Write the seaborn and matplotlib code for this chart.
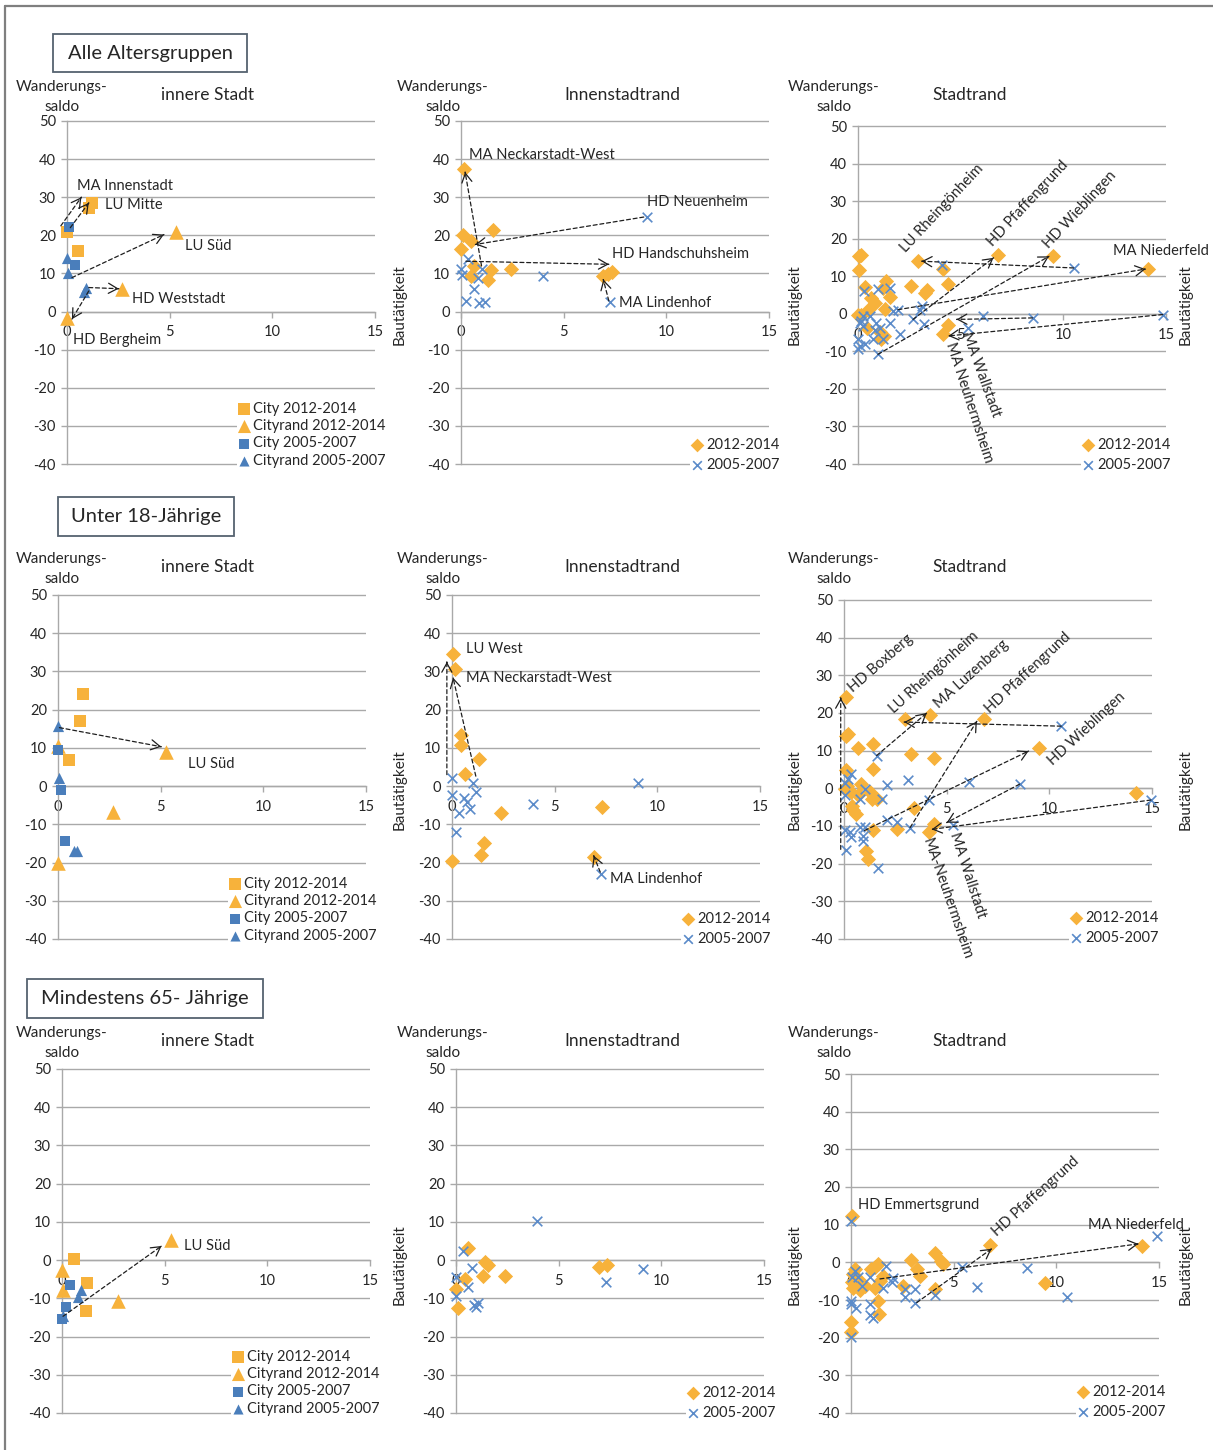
import matplotlib
matplotlib.use("Agg")
import matplotlib.pyplot as plt
from matplotlib.lines import Line2D
from matplotlib.patches import Rectangle
import pandas as pd
import seaborn as sns

W, H = 1213, 1450

sns.set_theme(style="white")
plt.rcParams["font.family"] = ["Lato", "DejaVu Sans"]
plt.rcParams["axes.unicode_minus"] = False

ORANGE = "#F7B23B"
BLUE = "#4A7EBB"
CROSS = "#5B8BC9"
GRID = "#A9A9A9"
TXT = "#262626"
ARROW = "#1E1E1E"

X_TICKS = [0, 5, 10, 15]
Y_TICKS = [-40, -30, -20, -10, 0, 10, 20, 30, 40, 50]

GROUP_TITLES = ["Alle Altersgruppen", "Unter 18-Jährige", "Mindestens 65- Jährige"]
AREA_TITLES = ["innere Stadt", "Innenstadtrand", "Stadtrand"]
Y_LABEL = "Wanderungs-\nsaldo"
X_LABEL = "Bautätigkeit"
INNER_SERIES = ["City 2012-2014", "Cityrand 2012-2014", "City 2005-2007", "Cityrand 2005-2007"]
OUTER_SERIES = ["2012-2014", "2005-2007"]

# ---------------- Alle Altersgruppen ----------------
A_IN_CITY_NEW = [(1.2, 28.6), (1.05, 27.3), (0.55, 15.8), (0.0, 21.0)]
A_IN_RAND_NEW = [(5.3, 20.8), (2.7, 5.8), (0.0, -1.8)]
A_IN_CITY_OLD = [(0.1, 22.2), (0.37, 12.3)]
A_IN_RAND_OLD = [(0.0, 14.1), (0.05, 10.0), (0.93, 6.1), (0.85, 5.2)]
A_IN_ARROWS = [(-0.3, 22.5, 0.7, 30.0), (0.16, 22.0, 1.06, 28.5), (0.24, 8.9, 4.72, 20.2),
               (1.06, 6.3, 2.52, 6.0), (1.06, 5.4, 0.24, -2.0)]
A_IN_LABELS = [("MA Innenstadt", 0.5, 33.0, 0), ("LU Mitte", 1.87, 28.0, 0), ("LU Süd", 5.77, 17.3, 0),
               ("HD Weststadt", 3.17, 3.2, 0), ("HD Bergheim", 0.28, -7.4, 0)]

A_MID_NEW = [(0.13, 37.4), (0.08, 20.2), (0.0, 16.5), (0.5, 18.5), (1.56, 21.3), (0.62, 11.9),
             (0.5, 9.3), (1.46, 10.8), (1.32, 8.4), (2.44, 11.1), (6.93, 9.3), (7.15, 9.9), (7.33, 10.5)]
A_MID_OLD = [(9.04, 24.8), (0.33, 13.7), (0.0, 11.1), (0.05, 9.6), (1.02, 11.1), (0.83, 8.9),
             (0.62, 5.8), (0.24, 2.8), (0.86, 2.2), (1.19, 2.6), (3.98, 9.3), (7.28, 2.4)]
A_MID_ARROWS = [(1.0, 12.0, 0.2, 36.6), (8.9, 24.8, 0.7, 17.6), (0.24, 13.2, 7.2, 12.4),
                (7.2, 2.8, 6.93, 8.4)]
A_MID_LABELS = [("MA Neckarstadt-West", 0.37, 41.1, 0), ("HD Neuenheim", 9.07, 28.7, 0),
                ("HD Handschuhsheim", 7.33, 15.0, 0), ("MA Lindenhof", 7.7, 2.2, 0)]

A_OUT_NEW = [(0.05, 15.5), (0.13, 15.7), (0.05, 11.7), (0.32, 7.1), (1.38, 8.7), (1.22, 6.9),
             (1.54, 4.4), (0.65, 4.2), (0.81, 2.9), (0.49, 1.1), (1.3, 1.3), (0.16, -0.4),
             (0.0, -0.4), (0.44, -3.7), (1.05, -4.9), (1.26, -5.9), (1.14, -6.8), (2.92, 14.0),
             (2.56, 7.3), (3.24, 5.6), (3.37, 6.4), (4.13, 11.9), (4.38, 7.8), (4.38, -3.1),
             (4.13, -5.5), (6.81, 15.7), (9.49, 15.3), (14.1, 11.9)]
A_OUT_OLD = [(4.1, 13.1), (10.5, 12.2), (14.84, -0.2), (6.08, -0.6), (8.51, -1.1), (5.35, -3.7),
             (0.28, 6.0), (0.97, 6.7), (1.54, 6.9), (1.95, 1.1), (3.0, 1.1), (3.13, 2.0),
             (2.68, -1.5), (3.19, -2.8), (1.7, 0.7), (1.54, -2.4), (2.03, -5.5), (0.97, -10.8),
             (0.89, -2.4), (0.81, -4.2), (1.05, -3.7), (0.57, -0.6), (0.24, -0.6), (0.08, -2.4),
             (0.16, -1.9), (0.24, -3.3), (0.0, -6.8), (0.08, -8.6), (0.32, -8.1), (0.0, -9.5),
             (0.73, -6.8), (1.22, -6.8)]
A_OUT_ARROWS = [(10.5, 12.2, 3.1, 14.0), (2.68, -1.5, 6.6, 14.9), (0.97, -10.8, 9.3, 15.3),
                (1.95, 1.1, 14.0, 11.9), (8.5, -1.1, 4.8, -1.5), (14.84, -0.2, 4.4, -5.9)]
A_OUT_LABELS = [("LU Rheingönheim", 2.19, 17.0, 47), ("HD Pfaffengrund", 6.4, 18.4, 47),
                ("HD Wieblingen", 9.16, 17.9, 47), ("MA Niederfeld", 12.4, 16.6, 0),
                ("MA Wallstadt", 5.27, -5.0, -70), ("MA Neuhermsheim", 4.46, -7.7, -72)]

# ---------------- Unter 18-Jährige ----------------
U_IN_CITY_NEW = [(1.2, 24.2), (1.09, 17.0), (0.55, 6.8)]
U_IN_RAND_NEW = [(5.27, 8.9), (2.7, -6.7), (0.0, -20.1), (0.0, 10.5)]
U_IN_CITY_OLD = [(0.0, 9.4), (0.15, -1.0), (0.36, -14.4)]
U_IN_RAND_OLD = [(0.0, 15.7), (0.07, 2.2), (0.8, -17.0), (0.93, -17.0)]
U_IN_ARROWS = [(0.07, 15.3, 5.03, 10.3)]
U_IN_LABELS = [("LU Süd", 6.33, 5.9, 0)]

U_MID_NEW = [(0.05, 34.5), (0.16, 30.7), (0.46, 13.3), (0.42, 10.7), (1.32, 7.2), (0.62, 3.1),
             (2.41, -7.0), (1.55, -14.8), (1.4, -18.1), (0.0, -19.5), (7.31, -5.4), (6.92, -18.5)]
U_MID_OLD = [(0.0, 2.2), (0.0, -2.4), (0.57, -3.1), (0.73, -4.2), (0.33, -7.0), (0.86, -5.9),
             (1.03, 0.7), (1.16, -1.5), (0.21, -12.0), (3.96, -4.8), (9.04, 0.9), (7.25, -23.1)]
U_MID_ARROWS = [(-0.25, 3.0, -0.25, 32.5), (1.16, 2.6, 0.05, 28.4), (7.22, -22.5, 6.9, -18.2)]
U_MID_LABELS = [("LU West", 0.67, 36.0, 0), ("MA Neckarstadt-West", 0.67, 28.4, 0),
                ("MA Lindenhof", 7.7, -24.4, 0)]

U_OUT_NEW = [(0.08, 24.3), (0.1, 13.9), (0.21, 14.5), (0.67, 10.6), (1.43, 11.7), (1.4, 5.2),
             (0.1, 4.9), (2.97, 18.5), (4.19, 19.4), (6.84, 18.5), (9.52, 10.6), (3.27, 9.0),
             (4.4, 8.1), (14.24, -1.3), (0.83, 1.2), (0.13, 0.6), (0.05, -0.1), (0.33, -1.1),
             (0.7, -1.9), (1.27, -1.1), (1.35, -2.9), (1.59, -2.7), (0.37, -4.7), (0.46, -5.8),
             (0.59, -6.9), (3.43, -5.1), (2.57, -10.7), (1.4, -11.0), (4.16, -11.6), (4.39, -9.5),
             (1.07, -16.6), (1.19, -18.8)]
U_OUT_OLD = [(10.58, 16.5), (1.59, 8.7), (0.33, 3.7), (0.21, 2.6), (0.05, 1.5), (3.14, 2.1),
             (6.11, 1.7), (8.55, 1.1), (2.08, 0.9), (1.02, -0.1), (0.05, -1.9), (0.78, -2.9),
             (1.87, -2.9), (4.14, -3.1), (14.95, -3.1), (2.08, -8.4), (2.57, -8.9), (3.22, -10.4),
             (5.33, -9.8), (0.05, -11.0), (0.29, -11.6), (0.78, -10.2), (1.02, -10.2),
             (0.33, -12.8), (0.94, -12.6), (0.91, -13.9), (0.1, -16.3), (1.67, -21.1)]
U_OUT_ARROWS = [(-0.16, -16.2, -0.16, 24.0), (10.58, 16.5, 2.93, 17.6), (1.59, 8.7, 4.03, 20.0),
                (3.22, -10.4, 6.47, 17.8), (1.0, -11.2, 8.99, 9.9), (8.55, 1.1, 5.0, -9.1),
                (14.95, -3.1, 4.27, -10.9)]
U_OUT_LABELS = [("HD Boxberg", 0.33, 26.2, 41), ("LU Rheingönheim", 2.32, 20.5, 42),
                ("MA Luzenberg", 4.52, 21.8, 42), ("HD Pfaffengrund", 6.96, 20.5, 43),
                ("HD Wieblingen", 10.04, 6.8, 43), ("MA Wallstadt", 5.33, -11.7, -72),
                ("MA-Neuhermsheim", 4.03, -13.5, -71)]

# ---------------- Mindestens 65-Jährige ----------------
M_IN_CITY_NEW = [(0.59, 0.2), (1.22, -6.1), (1.15, -13.4)]
M_IN_RAND_NEW = [(5.3, 5.2), (0.0, -2.5), (0.05, -7.7), (2.73, -10.8)]
M_IN_CITY_OLD = [(0.37, -6.4), (0.18, -12.3), (0.0, -15.4)]
M_IN_RAND_OLD = [(0.94, -7.7), (0.78, -9.6), (0.05, -14.7)]
M_IN_ARROWS = [(0.05, -14.7, 4.85, 3.7)]
M_IN_LABELS = [("LU Süd", 5.93, 3.7, 0)]

M_MID_NEW = [(0.6, 3.2), (0.44, -4.9), (0.0, -7.5), (0.11, -12.6), (1.42, -0.4), (1.55, -1.4),
             (1.31, -4.2), (2.37, -4.2), (6.94, -1.7), (7.33, -1.3)]
M_MID_OLD = [(3.95, 10.3), (0.36, 2.3), (0.77, -2.0), (0.0, -4.4), (0.6, -7.0), (0.0, -9.4),
             (0.9, -11.7), (1.09, -11.1), (0.96, -12.2), (7.3, -5.7), (9.09, -2.4)]
M_MID_ARROWS = []
M_MID_LABELS = []

M_OUT_NEW = [(0.03, 12.4), (6.77, 4.7), (14.16, 4.3), (2.92, 0.6), (4.09, 2.4), (4.38, 0.4),
             (4.46, -0.4), (3.2, -1.8), (3.36, -3.6), (2.55, -6.2), (4.09, -7.1), (9.45, -5.6),
             (1.33, -0.4), (1.17, -1.2), (0.96, -1.8), (0.19, -1.8), (0.11, -3.1), (0.36, -4.4),
             (0.03, -5.3), (0.11, -6.7), (0.44, -7.4), (0.68, -6.2), (1.17, -6.8), (1.41, -4.9),
             (1.57, -3.6), (1.33, -10.2), (1.36, -13.8), (0.0, -15.9), (0.0, -18.6)]
M_OUT_OLD = [(0.0, 10.9), (14.89, 7.1), (5.39, -1.2), (8.55, -1.5), (6.12, -6.5), (10.54, -9.3),
             (1.7, -0.9), (2.06, -4.2), (1.98, -5.3), (1.57, -6.7), (2.63, -7.1), (3.12, -7.1),
             (2.63, -9.3), (3.12, -10.8), (4.09, -8.6), (0.93, -4.0), (0.19, -2.2), (0.36, -3.8),
             (0.52, -6.2), (0.03, -3.8), (0.0, -10.2), (0.0, -11.1), (0.24, -12.2), (0.93, -11.1),
             (0.93, -14.0), (1.06, -14.7), (0.0, -19.8)]
M_OUT_ARROWS = [(3.2, -10.7, 6.85, 3.6), (1.41, -4.4, 13.99, 4.9)]
M_OUT_LABELS = [("HD Emmertsgrund", 0.36, 15.1, 0), ("HD Pfaffengrund", 7.0, 7.6, 42),
                ("MA Niederfeld", 11.56, 9.8, 0)]

# ---------------- layout (pixel positions of the plot areas) ----------------
# (left, right, top, bottom) of the 0..15 / 50..-40 area
PANEL_BOX = [
    [(67, 375, 121, 464), (461, 769, 121, 464), (858, 1166, 126, 464)],
    [(58, 366, 595, 939), (452, 760, 595, 939), (844, 1152, 600, 939)],
    [(62, 370, 1069, 1413), (456, 764, 1069, 1413), (851, 1159, 1074, 1413)],
]
# legend anchor: (left, bottom) in pixels
LEGEND_AT = [
    [(237, 469), (690, 473), (1081, 473)],
    [(228, 944), (681, 947), (1069, 946)],
    [(231, 1417), (686, 1421), (1076, 1420)],
]
HEADER_BOX = [(53, 247, 34, 72), (58, 234, 497, 536), (27, 263, 979, 1018)]
ROW_TITLE_Y = [95, 567, 1041]
COL_TITLE_X = [207, 622, 970]
YLAB_X = [62, 443, 834]
YLAB_Y = [97, 569, 1043]
XLAB_X = [400, 795, 1186]
XLAB_Y = [305, 790, 1265]

fig = plt.figure(figsize=(W / 100, H / 100), dpi=100)
fig.patch.set_facecolor("white")


def fx(px):
    return px / W


def fy(py):
    return 1 - py / H


def make_axes(box):
    left, right, top, bottom = box
    unit = (bottom - top) / 90.0
    pad = 0.5
    t = top - pad * unit
    b = bottom + pad * unit
    ax = fig.add_axes([fx(left), fy(b), (right - left) / W, (b - t) / H])
    ax.set_xlim(0, 15)
    ax.set_ylim(-40 - pad, 50 + pad)
    return ax


def style_axes(ax):
    ax.set_facecolor("none")
    ax.set_xticks(X_TICKS)
    ax.set_xticklabels([str(v) for v in X_TICKS])
    ax.set_yticks(Y_TICKS)
    ax.set_yticklabels([str(v) for v in Y_TICKS])
    ax.grid(False)
    ax.yaxis.grid(True, color=GRID, lw=1.0)
    ax.set_axisbelow(True)
    for s in ["top", "right"]:
        ax.spines[s].set_visible(False)
    ax.spines["left"].set_bounds(-40, 50)
    ax.spines["left"].set_color(GRID)
    ax.spines["left"].set_linewidth(1.0)
    ax.spines["bottom"].set_position(("data", 0))
    ax.spines["bottom"].set_bounds(0, 15)
    ax.spines["bottom"].set_color(GRID)
    ax.spines["bottom"].set_linewidth(1.0)
    ax.tick_params(axis="y", left=True, length=4, width=1, color=GRID, pad=4,
                   labelsize=10.5, labelcolor=TXT, direction="out")
    ax.tick_params(axis="x", bottom=True, length=4, width=1, color=GRID, pad=6,
                   labelsize=10.5, labelcolor=TXT, direction="out")
    ax.set_xlabel("")
    ax.set_ylabel("")


def scatter(ax, pts, marker, size, color, label, lw=0.0):
    df = pd.DataFrame(pts, columns=["bau", "saldo"])
    kws = dict(data=df, x="bau", y="saldo", ax=ax, marker=marker, s=size, color=color,
               label=label, clip_on=False, zorder=3, legend=False)
    if marker == "x":
        kws["linewidth"] = 1.2
    else:
        kws["edgecolor"] = color
        kws["linewidth"] = lw
    sns.scatterplot(**kws)


def arrows(ax, items):
    for x0, y0, x1, y1 in items:
        ax.annotate("", xy=(x1, y1), xytext=(x0, y0), annotation_clip=False, zorder=4,
                    arrowprops=dict(arrowstyle="-", lw=0.9, ls=(0, (3.2, 2.2)), color=ARROW,
                                    shrinkA=0, shrinkB=0))
        hx = x1 - 0.004 * (x1 - x0)
        hy = y1 - 0.004 * (y1 - y0)
        ax.annotate("", xy=(x1, y1), xytext=(hx, hy), annotation_clip=False, zorder=4,
                    arrowprops=dict(arrowstyle="->,head_length=0.5,head_width=0.28", lw=0.9,
                                    color=ARROW, shrinkA=0, shrinkB=0, mutation_scale=13))


def labels(ax, items):
    for text, x, y, rot in items:
        ax.text(x, y, text, ha="left", va="center", rotation=rot, rotation_mode="anchor",
                fontsize=10.5, color=TXT, clip_on=False, zorder=5)


def legend(ax, at, spacing):
    left, bottom = at
    leg = ax.legend(loc="lower left", bbox_to_anchor=(fx(left), fy(bottom)),
                    bbox_transform=fig.transFigure, frameon=True, fancybox=False,
                    facecolor="white", edgecolor="none", framealpha=1.0, borderpad=0.1,
                    borderaxespad=0, handlelength=0.7, handletextpad=0.3,
                    labelspacing=spacing, markerscale=0.9, fontsize=10.5)
    for t in leg.get_texts():
        t.set_color(TXT)
    leg.set_zorder(6)


INNER = [
    (A_IN_CITY_NEW, A_IN_RAND_NEW, A_IN_CITY_OLD, A_IN_RAND_OLD, A_IN_ARROWS, A_IN_LABELS),
    (U_IN_CITY_NEW, U_IN_RAND_NEW, U_IN_CITY_OLD, U_IN_RAND_OLD, U_IN_ARROWS, U_IN_LABELS),
    (M_IN_CITY_NEW, M_IN_RAND_NEW, M_IN_CITY_OLD, M_IN_RAND_OLD, M_IN_ARROWS, M_IN_LABELS),
]
OUTER = [
    [(A_MID_NEW, A_MID_OLD, A_MID_ARROWS, A_MID_LABELS), (A_OUT_NEW, A_OUT_OLD, A_OUT_ARROWS, A_OUT_LABELS)],
    [(U_MID_NEW, U_MID_OLD, U_MID_ARROWS, U_MID_LABELS), (U_OUT_NEW, U_OUT_OLD, U_OUT_ARROWS, U_OUT_LABELS)],
    [(M_MID_NEW, M_MID_OLD, M_MID_ARROWS, M_MID_LABELS), (M_OUT_NEW, M_OUT_OLD, M_OUT_ARROWS, M_OUT_LABELS)],
]

for r in range(3):
    # innere Stadt
    ax = make_axes(PANEL_BOX[r][0])
    cn, rn, co, ro, arr, lab = INNER[r]
    scatter(ax, cn, "s", 85, ORANGE, INNER_SERIES[0])
    scatter(ax, rn, "^", 110, ORANGE, INNER_SERIES[1])
    scatter(ax, co, "s", 55, BLUE, INNER_SERIES[2])
    scatter(ax, ro, "^", 65, BLUE, INNER_SERIES[3])
    style_axes(ax)
    arrows(ax, arr)
    labels(ax, lab)
    legend(ax, LEGEND_AT[r][0], 0.22)

    # Innenstadtrand / Stadtrand
    for c in (1, 2):
        ax = make_axes(PANEL_BOX[r][c])
        new, old, arr, lab = OUTER[r][c - 1]
        scatter(ax, new, "D", 60, ORANGE, OUTER_SERIES[0])
        scatter(ax, old, "x", 48, CROSS, OUTER_SERIES[1])
        style_axes(ax)
        arrows(ax, arr)
        labels(ax, lab)
        legend(ax, LEGEND_AT[r][c], 0.38)

    # texts around the panels
    for c in range(3):
        fig.text(fx(COL_TITLE_X[c]), fy(ROW_TITLE_Y[r]), AREA_TITLES[c], ha="center", va="center",
                 fontsize=12.5, color=TXT)
        fig.text(fx(YLAB_X[c]), fy(YLAB_Y[r]), Y_LABEL, ha="center", va="center",
                 fontsize=11, color=TXT, linespacing=1.5)
        fig.text(fx(XLAB_X[c]), fy(XLAB_Y[r]), X_LABEL, ha="center", va="center",
                 rotation=90, fontsize=11, color=TXT)

    # group header box
    x0, x1, y0, y1 = HEADER_BOX[r]
    fig.add_artist(Rectangle((fx(x0), fy(y1)), (x1 - x0) / W, (y1 - y0) / H,
                             transform=fig.transFigure, fc="white", ec="#55626F", lw=1.3))
    fig.text(fx((x0 + x1) / 2), fy((y0 + y1) / 2), GROUP_TITLES[r], ha="center", va="center",
             fontsize=14.5, color=TXT)

# outer frame (left and top edge)
fig.add_artist(Line2D([fx(5), fx(5)], [fy(6), 0], transform=fig.transFigure, color="#7F7F7F", lw=1.6))
fig.add_artist(Line2D([fx(5), 1], [fy(6), fy(6)], transform=fig.transFigure, color="#7F7F7F", lw=1.6))

fig.savefig("out.png", dpi=100, facecolor="white")
